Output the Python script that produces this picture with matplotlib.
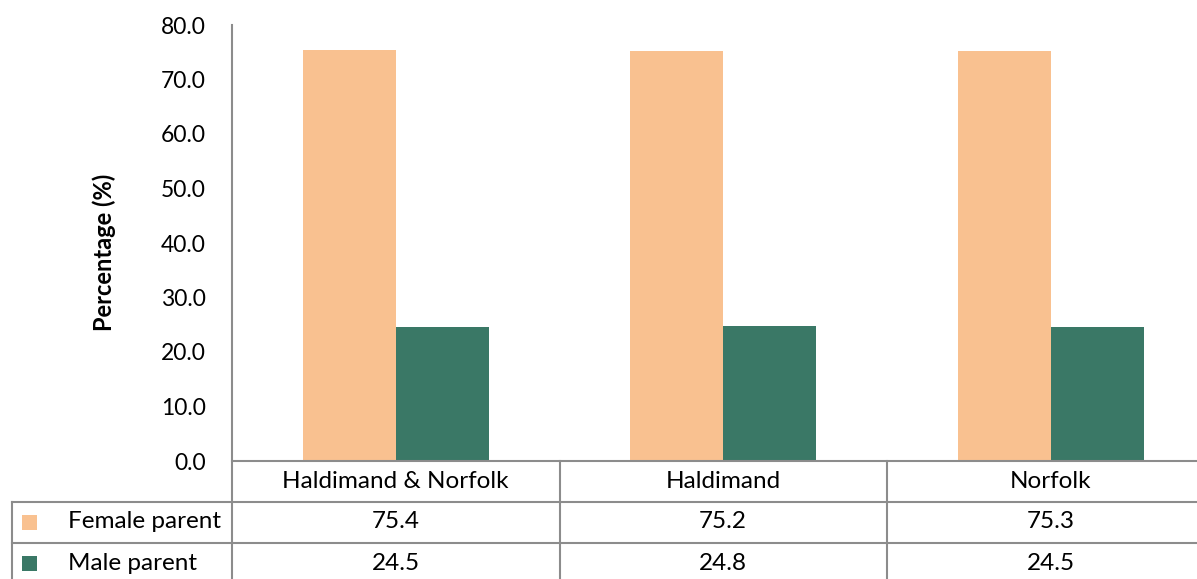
import matplotlib
matplotlib.use("Agg")
import matplotlib.pyplot as plt
import matplotlib.transforms as mtransforms
from matplotlib.lines import Line2D
from matplotlib.patches import Rectangle
import numpy as np

categories = ["Haldimand & Norfolk", "Haldimand", "Norfolk"]
series_names = ["Female parent", "Male parent"]
female = [75.4, 75.2, 75.3]
male = [24.5, 24.8, 24.5]
yticks = [0, 10, 20, 30, 40, 50, 60, 70, 80]
colors = ["#F9C190", "#3A7866"]

plt.rcParams['font.family'] = ['Lato', 'DejaVu Sans']

W, H = 1197, 579
fig = plt.figure(figsize=(W / 100, H / 100), dpi=100)

# axes placement in pixels (last column runs past the right edge)
ax_left, ax_top, ax_bottom = 232, 25, 461
col_w = 327.5
ax_right = ax_left + col_w * len(categories)
ax_w_px = ax_right - ax_left
ax_h_px = ax_bottom - ax_top
ax = fig.add_axes([ax_left / W, 1 - ax_bottom / H, ax_w_px / W, ax_h_px / H])

x = np.arange(len(categories))
bw = 0.284
ax.bar(x - bw / 2, female, width=bw, color=colors[0], label=series_names[0])
ax.bar(x + bw / 2, male, width=bw, color=colors[1], label=series_names[1])

ax.set_xlim(-0.5, len(categories) - 0.5)
ax.set_ylim(0, 80)
ax.set_yticks(yticks)
ax.set_yticklabels([f"{v:.1f}" for v in yticks], fontsize=16.5)
ax.tick_params(axis='y', length=0, pad=19)
ax.set_xticks([])
for s in ["top", "right", "bottom", "left"]:
    ax.spines[s].set_visible(False)
ax.set_ylabel("Percentage (%)", fontsize=17, fontweight="bold")
ax.yaxis.set_label_coords((104 - ax_left) / ax_w_px, (ax_bottom - 252) / ax_h_px)
ax.yaxis.label.set_va("center")

gray = "#8C8C8C"
lw = 1.5
def fx(px):
    return px / W
def fy(py):
    return 1 - py / H

blend = mtransforms.blended_transform_factory(ax.transData, fig.transFigure)

# y-axis line extended through the table
fig.add_artist(Line2D([fx(ax_left)] * 2, [fy(ax_top), fy(H + 5)], color=gray, lw=lw))
# horizontal table lines
fig.add_artist(Line2D([fx(ax_left), 1.0], [fy(461)] * 2, color=gray, lw=lw))
for ry in [501.5, 542.5]:
    fig.add_artist(Line2D([fx(12), 1.0], [fy(ry)] * 2, color=gray, lw=lw))
# left edge of legend cells
fig.add_artist(Line2D([fx(12)] * 2, [fy(501.5), fy(H + 5)], color=gray, lw=lw))
# column separators
for i in range(1, len(categories)):
    fig.add_artist(Line2D([i - 0.5] * 2, [fy(461), fy(H + 5)], color=gray, lw=lw,
                          transform=blend))

fs = 17.5
# header text
for i, c in enumerate(categories):
    fig.text(i, fy(481), c, transform=blend, fontsize=fs, ha="center", va="center")

# data rows
rows = [female, male]
row_centers = [522, 563]
for r, (vals, yc) in enumerate(zip(rows, row_centers)):
    fig.add_artist(Rectangle((fx(22), fy(yc) - 7.5 / H), 15 / W, 15 / H,
                             transform=fig.transFigure, color=colors[r], lw=0))
    fig.text(fx(68), fy(yc), series_names[r], fontsize=fs, ha="left", va="center")
    for i, v in enumerate(vals):
        fig.text(i, fy(yc), f"{v:.1f}", transform=blend, fontsize=fs,
                 ha="center", va="center")

fig.savefig("out.png", dpi=100)
